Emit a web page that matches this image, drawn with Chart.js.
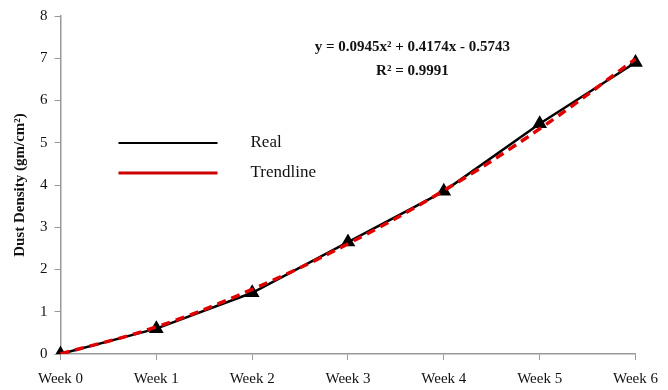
<!DOCTYPE html>
<html><head><meta charset="utf-8">
<script src="https://cdn.jsdelivr.net/npm/chart.js@4"></script>
<style>html,body{margin:0;padding:0;background:#fff}#c{display:block}</style>
</head><body>
<canvas id="c" width="668" height="390"></canvas>
<script>
const categories = ["Week 0","Week 1","Week 2","Week 3","Week 4","Week 5","Week 6"];
const realValues = [0, 0.6, 1.45, 2.65, 3.85, 5.45, 6.9];
const trendValues = [0, 0.64, 1.53, 2.61, 3.87, 5.33, 6.98];
const yTicks = [0,1,2,3,4,5,6,7,8];
const equationText = ["y = 0.0945x² + 0.4174x - 0.5743", "R² = 0.9991"];
const legendItems = [{label:"Real", color:"#000000"}, {label:"Trendline", color:"#cc0000"}];

const serif = "'Liberation Serif', 'DejaVu Serif', serif";

const overlay = {
  id: 'overlay',
  afterDraw(chart) {
    const ctx = chart.ctx, a = chart.chartArea;
    ctx.save();
    ctx.fillStyle = '#111';
    ctx.font = "bold 15px " + serif;
    ctx.textAlign = 'center';
    ctx.textBaseline = 'middle';
    const cx = a.left + (a.right - a.left) * 0.612;
    ctx.fillText(equationText[0], cx, a.top + 31);
    ctx.fillText(equationText[1], cx, a.top + 55);
    // legend
    ctx.font = "17px " + serif;
    ctx.textAlign = 'left';
    legendItems.forEach((it, i) => {
      const y = a.top + 127 + i * 30;
      ctx.strokeStyle = it.color;
      ctx.lineWidth = i === 0 ? 2 : 3;
      ctx.beginPath();
      ctx.moveTo(a.left + 58, y);
      ctx.lineTo(a.left + 157, y);
      ctx.stroke();
      ctx.fillStyle = '#111';
      ctx.fillText(it.label, a.left + 190, y);
    });
    ctx.restore();
  }
};

new Chart(document.getElementById('c'), {
  type: 'line',
  data: {
    labels: categories,
    datasets: [
      {
        label: 'Trendline', data: trendValues, borderColor: '#e00000', borderWidth: 3.5,
        borderDash: [9, 6], pointRadius: 0, tension: 0.4, order: 0, fill: false
      },
      {
        label: 'Real', data: realValues, borderColor: '#000', borderWidth: 2.5,
        pointStyle: 'triangle', pointRadius: 6, pointBackgroundColor: '#000',
        pointBorderColor: '#000', tension: 0, order: 1, fill: false
      }
    ]
  },
  options: {
    responsive: false, animation: false,
    layout: { padding: { top: 11, right: 15, left: 11, bottom: -8 } },
    plugins: { legend: { display: false }, tooltip: { enabled: false } },
    scales: {
      x: {
        offset: false,
        grid: { drawOnChartArea: false, color: '#999', tickLength: 6 },
        border: { color: '#999', width: 1.5 },
        ticks: { color: '#111', font: { family: serif, size: 15 }, maxRotation: 0, padding: 10 }
      },
      y: {
        min: 0, max: 8,
        afterBuildTicks(scale) { scale.ticks = yTicks.map(v => ({ value: v })); },
        grid: { drawOnChartArea: false, color: '#999', tickLength: 6 },
        border: { color: '#999', width: 1.5 },
        ticks: { color: '#111', font: { family: serif, size: 15 }, padding: 7 },
        title: { display: true, text: 'Dust Density (gm/cm²)', color: '#111',
          font: { family: serif, size: 15, weight: 'bold' }, padding: { top: 0, bottom: 4 } }
      }
    }
  },
  plugins: [overlay]
});
</script>
</body></html>
